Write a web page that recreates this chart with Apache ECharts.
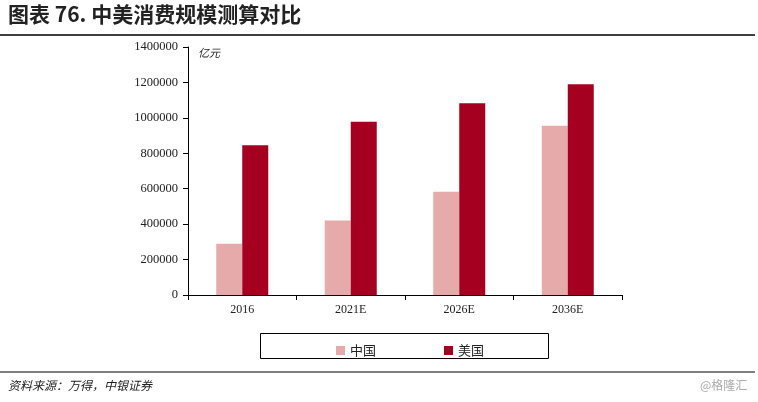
<!DOCTYPE html>
<html><head><meta charset="utf-8">
<script src="https://cdn.jsdelivr.net/npm/echarts@6/dist/echarts.min.js"></script>
<style>html,body{margin:0;padding:0;background:#fff}#c{width:758px;height:402px}</style>
</head><body><div id="c"></div>
<script>
var categories = ['2016', '2021E', '2026E', '2036E'];
var chinaValues = [290000, 420000, 583000, 955000];
var usValues = [845000, 978000, 1082000, 1190000];
var seriesNames = ['中国', '美国'];
var yTicks = [0, 200000, 400000, 600000, 800000, 1000000, 1200000, 1400000];

var chart = echarts.init(document.getElementById('c'));
var serif = '"Liberation Serif","DejaVu Serif",serif';
var cjk = '"Noto Sans CJK SC",sans-serif';
chart.setOption({
  animation: false,
  backgroundColor: '#fff',
  grid: {left: 188, right: 136, top: 47, bottom: 107},
  legend: {
    data: seriesNames, left: 331, top: 339, itemWidth: 9, itemHeight: 9, itemGap: 68,
    icon: 'rect', textStyle: {fontFamily: cjk, fontSize: 13, color: '#222'}
  },
  xAxis: {
    type: 'category', data: categories,
    axisLine: {lineStyle: {color: '#000', width: 1}},
    axisTick: {show: true, length: 5, lineStyle: {color: '#000'}},
    axisLabel: {fontFamily: serif, fontSize: 12, color: '#222', margin: 9}
  },
  yAxis: {
    type: 'value', min: yTicks[0], max: yTicks[yTicks.length - 1], interval: 200000,
    axisLine: {show: true, lineStyle: {color: '#000', width: 1}},
    axisTick: {show: true, length: 5, lineStyle: {color: '#000'}},
    splitLine: {show: false},
    axisLabel: {fontFamily: serif, fontSize: 12.5, color: '#222', margin: 10, formatter: function (v) { return String(v); }}
  },
  series: [
    {name: seriesNames[0], type: 'bar', data: chinaValues, barWidth: 26, barGap: '0%', itemStyle: {color: '#E6AAAA'}},
    {name: seriesNames[1], type: 'bar', data: usValues, barWidth: 26, barGap: '0%', itemStyle: {color: '#A5001F'}}
  ],
  graphic: [
    {type: 'text', left: 8, top: 4, style: {text: '图表 76. 中美消费规模测算对比', font: 'bold 21px ' + cjk, fill: '#222'}},
    {type: 'line', shape: {x1: 0, y1: 35, x2: 755, y2: 35}, style: {stroke: '#000', lineWidth: 1.5}},
    {type: 'text', left: 198, top: 47, style: {text: '亿元', font: 'italic 11px ' + cjk, fill: '#222'}},
    {type: 'rect', shape: {x: 260.5, y: 333.5, width: 288, height: 25}, style: {fill: 'none', stroke: '#000', lineWidth: 1}},
    {type: 'line', shape: {x1: 0, y1: 372, x2: 755, y2: 372}, style: {stroke: '#000', lineWidth: 1.2}},
    {type: 'text', left: 8, top: 379, style: {text: '资料来源：万得，中银证券', font: 'italic 12px ' + cjk, fill: '#222'}},
    {type: 'text', left: 700, top: 379, style: {text: '@格隆汇', font: '12px ' + cjk, fill: '#aaa'}}
  ]
});
</script></body></html>
